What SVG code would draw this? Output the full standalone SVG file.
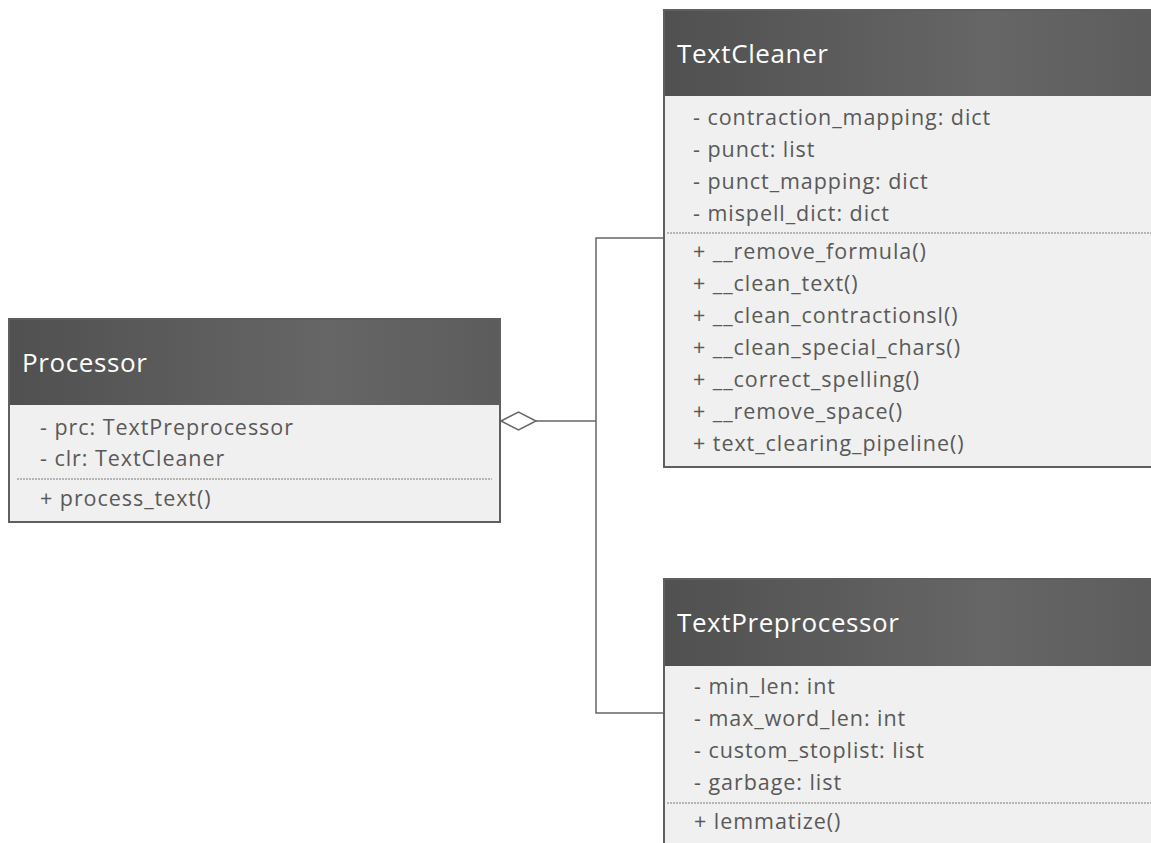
<svg xmlns="http://www.w3.org/2000/svg" width="1151" height="843" viewBox="0 0 1151 843">
<style>
.hdr{fill:url(#hg);}
.body{fill:#f0f0f0;}
.frame{fill:none;stroke:#5f5f5f;stroke-width:2;}
.title{font-family:"Open Sans","Noto Sans",sans-serif;font-size:26px;letter-spacing:0.6px;fill:#ffffff;}
.item{font-family:"Open Sans","Noto Sans",sans-serif;font-size:21.5px;letter-spacing:0.95px;fill:#595959;}
.sep{stroke:#7a7a7a;stroke-width:1;stroke-dasharray:2 1;}
.conn{fill:none;stroke:#666666;stroke-width:1.5;}
</style>
<defs>
<linearGradient id="hg" x1="0" y1="0" x2="1" y2="0">
<stop offset="0" stop-color="#505050"/>
<stop offset="0.65" stop-color="#666666"/>
<stop offset="1" stop-color="#5c5c5c"/>
</linearGradient>
</defs>
<rect width="1151" height="843" fill="#ffffff"/>

<g id="connectors">
<polyline class="conn" points="536,421 596,421"/>
<polyline class="conn" points="664,238 596,238 596,713 664,713"/>
<polygon points="501,421 518.5,412 536,421 518.5,430" fill="#ffffff" stroke="#666666" stroke-width="1.5"/>
</g>

<g id="Processor">
<rect class="body" x="9" y="319" width="491" height="203"/>
<rect class="hdr" x="9" y="319" width="491" height="86"/>
<rect class="frame" x="9" y="319" width="491" height="203"/>
<text class="title" x="22" y="372">Processor</text>
<text class="item" x="40" y="435">- prc: TextPreprocessor</text>
<text class="item" x="40" y="466">- clr: TextCleaner</text>
<line class="sep" x1="17" y1="479" x2="492" y2="479"/>
<text class="item" x="40" y="506">+ process_text()</text>
</g>

<g id="TextCleaner">
<rect class="body" x="664" y="10" width="500" height="457"/>
<rect class="hdr" x="664" y="10" width="500" height="86"/>
<rect class="frame" x="664" y="10" width="500" height="457"/>
<text class="title" x="677" y="63">TextCleaner</text>
<text class="item" x="693" y="125">- contraction_mapping: dict</text>
<text class="item" x="693" y="157">- punct: list</text>
<text class="item" x="693" y="189">- punct_mapping: dict</text>
<text class="item" x="693" y="221">- mispell_dict: dict</text>
<line class="sep" x1="667" y1="233" x2="1151" y2="233"/>
<text class="item" x="693" y="259">+ __remove_formula()</text>
<text class="item" x="693" y="291">+ __clean_text()</text>
<text class="item" x="693" y="323">+ __clean_contractionsl()</text>
<text class="item" x="693" y="355">+ __clean_special_chars()</text>
<text class="item" x="693" y="387">+ __correct_spelling()</text>
<text class="item" x="693" y="419">+ __remove_space()</text>
<text class="item" x="693" y="451">+ text_clearing_pipeline()</text>
</g>

<g id="TextPreprocessor">
<rect class="body" x="664" y="579" width="500" height="290"/>
<rect class="hdr" x="664" y="579" width="500" height="87"/>
<rect class="frame" x="664" y="579" width="500" height="290"/>
<text class="title" x="677" y="632">TextPreprocessor</text>
<text class="item" x="694" y="694">- min_len: int</text>
<text class="item" x="694" y="726">- max_word_len: int</text>
<text class="item" x="694" y="758">- custom_stoplist: list</text>
<text class="item" x="694" y="790">- garbage: list</text>
<line class="sep" x1="667" y1="803" x2="1151" y2="803"/>
<text class="item" x="694" y="829">+ lemmatize()</text>
</g>
</svg>
